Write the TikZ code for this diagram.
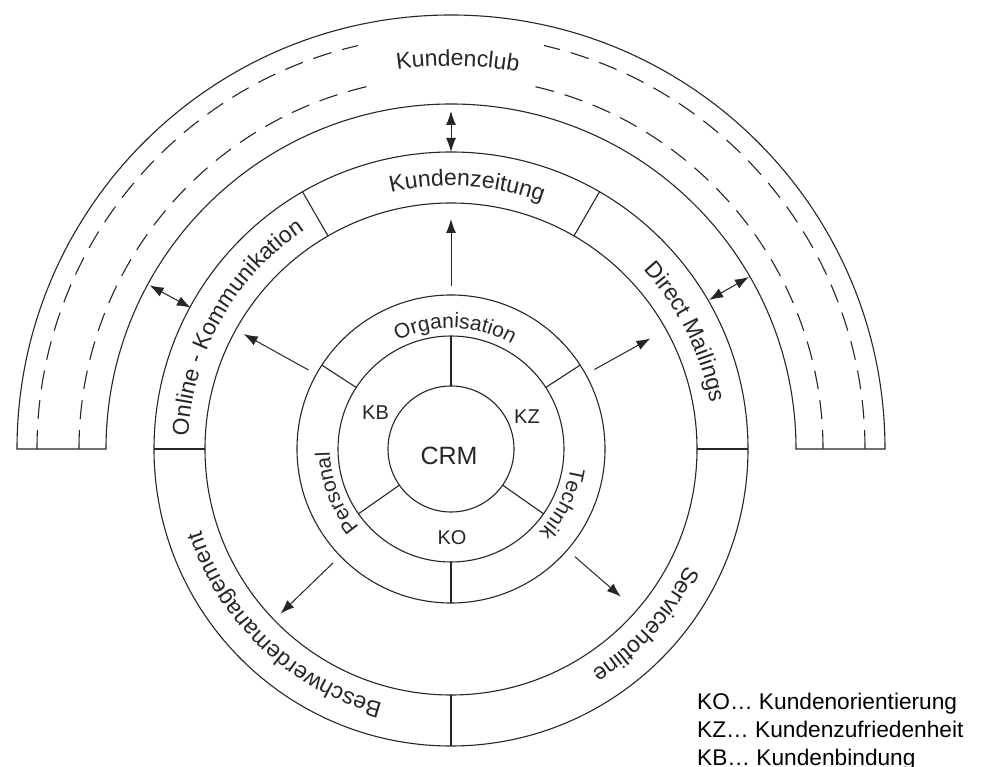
\documentclass[tikz,border=0pt]{standalone}
\usepackage{fontspec}
\setmainfont{Liberation Sans}
\usetikzlibrary{arrows.meta,decorations.text}

\newcommand\ringfont{\fontsize{23}{23}\selectfont\color{black!85}}
\newcommand\innerfont{\fontsize{21}{21}\selectfont\color{black!85}}
% curved label: font, text, radius, centre angle, half span (read clockwise)
\newcommand\arclabel[5]{%
  \path[decorate,decoration={text along path,text align=center,text={|#1|#2}}]
    ({#4+#5}:#3) arc[start angle={#4+#5},end angle={#4-#5},radius=#3];}

\tikzset{
  ln/.style={draw=black!85,line width=1.1pt},
  dsh/.style={ln,dash pattern=on 19pt off 11pt},
  arr/.style={draw=black!85,line width=1pt,-{Latex[length=14pt,width=10pt]}},
  dblarr/.style={draw=black!85,line width=1pt,{Latex[length=14pt,width=10pt]}-{Latex[length=14pt,width=10pt]}},
  lbl/.style={inner sep=0pt,text=black!85,font=\fontsize{20}{20}\selectfont},
  legend/.style={inner sep=0pt,anchor=base west,font=\fontsize{22.7}{22.7}\selectfont}
}

\begin{document}
\begin{tikzpicture}[x=1pt,y=1pt]
\useasboundingbox (0,0) rectangle (999,766);
\fill[white] (0,0) rectangle (999,766);

\begin{scope}[shift={(451,317)}]
  % outer arch (Kundenclub)
  \draw[ln] (180:345) arc[start angle=180,end angle=0,radius=345]
    -- (0:434) arc[start angle=0,end angle=180,radius=434] -- cycle;
  \draw[dsh] (180:372) arc[start angle=180,end angle=102,radius=372];
  \draw[dsh] (0:372) arc[start angle=0,end angle=78,radius=372];
  \draw[dsh] (180:414) arc[start angle=180,end angle=103,radius=414];
  \draw[dsh] (0:414) arc[start angle=0,end angle=77,radius=414];

  % communication ring
  \draw[ln] (0,0) circle[radius=246];
  \draw[ln] (0,0) circle[radius=297];
  \foreach \a in {0,60,120,180,270} \draw[ln] (\a:246) -- (\a:297);

  % inner rings
  \draw[ln] (0,0) circle[radius=63];
  \draw[ln] (0,0) circle[radius=113];
  \draw[ln] (0,0) circle[radius=154];
  \foreach \a in {90,215,325} \draw[ln] (\a:63) -- (\a:113);
  \foreach \a in {33,147,270} \draw[ln] (\a:113) -- (\a:154);

  % arrow end points
  \coordinate (s1) at (90:163);  \coordinate (t1) at (90:230);
  \coordinate (s2) at (151:163); \coordinate (t2) at (151:237);
  \coordinate (s3) at (29:164);  \coordinate (t3) at (29:228);
  \coordinate (s4) at (224:164); \coordinate (t4) at (224:237);
  \coordinate (s5) at (319:164); \coordinate (t5) at (319:225);
  \foreach \i in {1,...,5} \draw[arr] (s\i) -- (t\i);

  \coordinate (u1) at (90:297);   \coordinate (v1) at (90:338);
  \coordinate (u2) at (151.5:296); \coordinate (v2) at (151.5:343);
  \coordinate (u3) at (30:298);   \coordinate (v3) at (30:344);
  \foreach \i in {1,2,3} \draw[dblarr] (u\i) -- (v\i);

  % curved labels
  \arclabel{\ringfont}{Kundenclub}{383}{89}{30}
  \arclabel{\ringfont}{Kundenzeitung}{263}{86.5}{60}
  \arclabel{\ringfont}{Online - Kommunikation}{263}{150.5}{70}
  \arclabel{\ringfont}{Direct Mailings}{263}{26.5}{60}
  \arclabel{\ringfont}{Beschwerdemanagement}{263}{226.5}{75}
  \arclabel{\ringfont}{Servicehotline}{263}{-42}{60}
  \arclabel{\innerfont}{Organisation}{121}{88}{80}
  \arclabel{\innerfont}{Technik}{121}{-26}{60}
  \arclabel{\innerfont}{Personal}{121}{201}{60}
\end{scope}

% core labels
\node[lbl] (kb) at (375.5,353) {KB};
\node[lbl] (kz) at (527,349) {KZ};
\node[lbl] (ko) at (452,228) {KO};
\node[lbl,font=\fontsize{25}{25}\selectfont] (crm) at (449,310) {CRM};

% legend
\node[legend] (l1) at (697,56) {KO… Kundenorientierung};
\node[legend] (l2) at (697,28) {KZ… Kundenzufriedenheit};
\node[legend] (l3) at (697,1) {KB… Kundenbindung};
\end{tikzpicture}
\end{document}
